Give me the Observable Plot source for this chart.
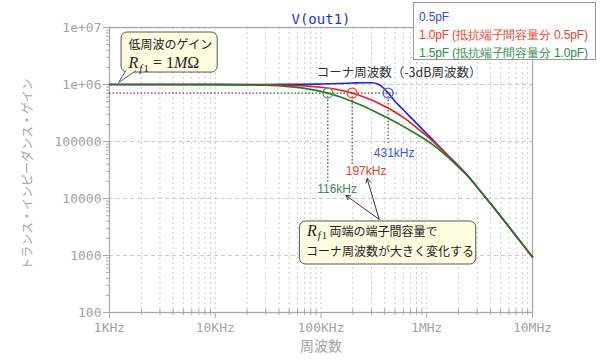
<!DOCTYPE html>
<html><head><meta charset="utf-8">
<script src="https://cdn.jsdelivr.net/npm/d3@7"></script>
<script src="https://cdn.jsdelivr.net/npm/@observablehq/plot@0.6"></script>
<style>
body{margin:0;background:#fff;}
#wrap{position:relative;width:600px;height:361px;overflow:hidden;}
#legend{position:absolute;left:413px;top:2px;width:183px;height:58px;border:1px solid #999;background:#fff;
 font-family:"Liberation Sans",Arial,sans-serif;font-size:12px;letter-spacing:-0.15px;line-height:18px;padding:5px 0 0 5px;box-sizing:border-box;white-space:nowrap;}
</style></head>
<body><div id="wrap"><div id="chart"></div><div id="legend"></div></div>
<script>
// ---- data ----
const freq   = [1e3, 1e4, 3e4, 5e4, 7e4, 1e5, 1.5e5, 2e5, 2.5e5, 3e5, 3.5e5, 4e5, 5e5, 6e5, 7e5, 8.5e5, 1e6, 1.2e6, 1.5e6, 2e6, 2.5e6, 3e6, 4e6, 5e6, 7e6, 1e7];
const gain05 = [1e6, 1.0e6, 1.002e6, 1.006e6, 1.01e6, 1.02e6, 1.04e6, 1.06e6, 1.075e6, 1.075e6, 1.01e6, 0.83e6, 0.51e6, 0.36e6, 0.268e6, 0.186e6, 0.137e6, 0.097e6, 0.0635e6, 0.0375e6, 0.024e6, 15800, 8200, 4900, 2200, 940];
const gain10 = [1e6, 0.999e6, 0.99e6, 0.97e6, 0.945e6, 0.895e6, 0.80e6, 0.70e6, 0.61e6, 0.535e6, 0.47e6, 0.415e6, 0.33e6, 0.265e6, 0.215e6, 0.16e6, 0.125e6, 0.093e6, 0.062e6, 0.0368e6, 0.0238e6, 15800, 8200, 4900, 2200, 940];
const gain15 = [1e6, 0.996e6, 0.968e6, 0.918e6, 0.856e6, 0.757e6, 0.61e6, 0.50e6, 0.42e6, 0.357e6, 0.31e6, 0.275e6, 0.222e6, 0.184e6, 0.156e6, 0.126e6, 0.104e6, 0.082e6, 0.058e6, 0.0355e6, 0.0235e6, 15800, 8200, 4900, 2200, 940];
const seriesNames = ["0.5pF", "1.0pF (抵抗端子間容量分 0.5pF)", "1.5pF (抵抗端子間容量分 1.0pF)"];
const cornerFreqs = [431e3, 197e3, 116e3];
const cornerLabels = ["431kHz", "197kHz", "116kHz"];
const cornerGain = 0.707e6;
const xTicks = [1e3, 1e4, 1e5, 1e6, 1e7];
const xTickLabels = ["1KHz", "10KHz", "100KHz", "1MHz", "10MHz"];
const yTicks = [1e2, 1e3, 1e4, 1e5, 1e6, 1e7];
const yTickLabels = ["100", "1000", "10000", "100000", "1e+06", "1e+07"];
const titleText = "V(out1)";
const xLabel = "周波数";
const yLabel = "トランス・インピーダンス・ゲイン";
const cornerTitle = "コーナ周波数（-3dB周波数）";
const note1 = ["低周波のゲイン", "Rf1 = 1MΩ"];
const note2 = ["Rf1 両端の端子間容量で", "コーナ周波数が大きく変化する"];

// ---- styles / annotation placement (data units) ----
const lineColors   = ["#1f1fe6", "#e61e1e", "#1e7d1e"];
const circleColors = ["#4a64e0", "#e8503c", "#5a9a6a"];
const labelColors  = ["#3a56d8", "#e8402a", "#3c8c5a"];
const legendColors = ["#2f4fd8", "#e8402a", "#2e8b4e"];
const boxFill = "#fffde0";
const ann = {
  cornerTitle: {f: 5.48e5, v: 1.56e6},
  hLineEnd: 5.3e5,
  dropEnd: [92000, 39400, 19100],
  labelPos: [{f: 4.92e5, v: 61500}, {f: 2.67e5, v: 29800}, {f: 1.42e5, v: 14400}],
  box1: {f1: 1300, f2: 10550, v1: 1.62e6, v2: 8.17e6},
  box1Text: [{f: 1514, v: 4.83e6}, {f: 1514, v: 2.36e6}],
  box1Pointer: [[1419, 1.73e6], [1217, 1.08e6], [1763, 1.73e6]],
  box2: {f1: 63200, f2: 2.94e6, v1: 695, v2: 3950},
  box2Text: [{f: 73600, v: 2535}, {f: 72100, v: 1130}],
  arrows: [{f1: 3.55e5, v1: 4290, f2: 1.726e5, v2: 11300}, {f1: 3.55e5, v1: 4290, f2: 2.73e5, v2: 22400}]
};

const gains = [gain05, gain10, gain15];
const rows = gains.map(g => freq.map((f, i) => ({f, v: g[i]})));
const corners = cornerFreqs.map((f, i) => ({f, label: cornerLabels[i], end: ann.dropEnd[i], lx: ann.labelPos[i].f, ly: ann.labelPos[i].v, c: circleColors[i], lc: labelColors[i]}));

const minorX = [], minorY = [];
for (let e = 3; e < 7; e++) for (let k = 2; k <= 9; k++) minorX.push(k * 10 ** e);
for (let e = 2; e < 7; e++) for (let k = 2; k <= 9; k++) minorY.push(k * 10 ** e);
const gridX = minorX.concat([1e4, 1e5, 1e6]);

const jp = "'Noto Sans CJK JP', sans-serif";
const sans = "'Liberation Sans', Arial, sans-serif";
const mono = "'DejaVu Sans Mono', monospace";
const serif = "'Liberation Serif', 'DejaVu Serif', serif";

const chart = Plot.plot({
  width: 600, height: 361,
  marginLeft: 109, marginRight: 68, marginTop: 27, marginBottom: 49,
  x: {type: "log", domain: [1e3, 1e7]},
  y: {type: "log", domain: [100, 1e7]},
  style: {fontFamily: mono, fontSize: "13px", color: "#a3a3a3", background: "white", overflow: "visible"},
  marks: [
    Plot.ruleX(gridX, {x: d => d, stroke: "#c9c9c9", strokeDasharray: "2,3"}),
    Plot.ruleY([1e3, 1e4, 1e5, 1e6], {y: d => d, stroke: "#c9c9c9", strokeDasharray: "4,3"}),
    Plot.frame({stroke: "#a8a8a8", strokeWidth: 1.3}),
    Plot.axisX(xTicks, {tickFormat: d => xTickLabels[xTicks.indexOf(d)], tickSize: 6, tickPadding: 4, label: null, stroke: "#a8a8a8"}),
    Plot.axisY(yTicks, {tickFormat: d => yTickLabels[yTicks.indexOf(d)], tickSize: 6, tickPadding: 2, label: null, stroke: "#a8a8a8"}),
    Plot.ruleX(minorX, {x: d => d, y1: 100, y2: 100, insetTop: -3, insetBottom: -3, stroke: "#a8a8a8"}),
    Plot.ruleY(minorY, {y: d => d, x1: 1e3, x2: 1e3, insetLeft: -3, stroke: "#a8a8a8"}),
    Plot.text([titleText], {frameAnchor: "top", lineAnchor: "middle", dy: -8, fill: "#2233cc", fontSize: 14, fontFamily: mono}),
    Plot.text([xLabel], {frameAnchor: "bottom", lineAnchor: "middle", dy: 34, fill: "#a3a3a3", fontSize: 14, fontFamily: jp}),
    Plot.text([yLabel], {frameAnchor: "left", textAnchor: "middle", lineAnchor: "middle", dx: -81, dy: 4, rotate: -90, fill: "#a3a3a3", fontSize: 12, fontFamily: jp}),
    // -3dB guide lines
    Plot.ruleY([cornerGain], {y: d => d, x1: 1e3, x2: ann.hLineEnd, stroke: "#222", strokeDasharray: "1.5,2"}),
    Plot.ruleX(corners, {x: "f", y1: cornerGain, y2: "end", stroke: "#222", strokeDasharray: "1.5,2"}),
    // curves
    Plot.line(rows[0], {x: "f", y: "v", stroke: lineColors[0], strokeWidth: 1.6, curve: "monotone-x"}),
    Plot.line(rows[1], {x: "f", y: "v", stroke: lineColors[1], strokeWidth: 1.6, curve: "monotone-x"}),
    Plot.line(rows[2], {x: "f", y: "v", stroke: lineColors[2], strokeWidth: 1.6, curve: "monotone-x"}),
    Plot.dot(corners, {x: "f", y: cornerGain, r: 5, stroke: "c", fill: "none", strokeWidth: 1.2}),
    Plot.text(corners, {x: "lx", y: "ly", text: "label", fill: "lc", fontSize: 12, fontFamily: sans}),
    Plot.text([cornerTitle], {x: ann.cornerTitle.f, y: ann.cornerTitle.v, fill: "#333", fontSize: 12.5, fontFamily: jp}),
    // callout 1
    Plot.rect([ann.box1], {x1: "f1", x2: "f2", y1: "v1", y2: "v2", rx: 6, fill: boxFill, stroke: "#555", strokeWidth: 1}),
    Plot.line(ann.box1Pointer, {x: d => d[0], y: d => d[1], fill: boxFill, stroke: "#555", strokeWidth: 1}),
    Plot.text([note1[0]], {x: ann.box1Text[0].f, y: ann.box1Text[0].v, textAnchor: "start", fill: "#222", fontSize: 12, fontFamily: jp}),
    Plot.text([note1[1]], {x: ann.box1Text[1].f, y: ann.box1Text[1].v, textAnchor: "start", fill: "#222", fontSize: 16, fontFamily: serif}),
    // callout 2
    Plot.arrow(ann.arrows, {x1: "f1", y1: "v1", x2: "f2", y2: "v2", stroke: "#333", strokeWidth: 1, headLength: 7}),
    Plot.rect([ann.box2], {x1: "f1", x2: "f2", y1: "v1", y2: "v2", rx: 6, fill: boxFill, stroke: "#555", strokeWidth: 1}),
    Plot.text([note2[0]], {x: ann.box2Text[0].f, y: ann.box2Text[0].v, textAnchor: "start", fill: "#222", fontSize: 12, fontFamily: jp}),
    Plot.text([note2[1]], {x: ann.box2Text[1].f, y: ann.box2Text[1].v, textAnchor: "start", fill: "#222", fontSize: 12, fontFamily: jp})
  ]
});

// math-style subscripts (R_f1)
d3.select(chart).selectAll("text").each(function () {
  const t = this.textContent;
  if (t === note1[1]) {
    const s = d3.select(this); s.text("");
    s.append("tspan").attr("font-style", "italic").text("R");
    s.append("tspan").attr("font-style", "italic").attr("font-size", 11).attr("dx", 1).attr("dy", 4).text("f");
    s.append("tspan").attr("font-size", 11).attr("dx", 1).text("1");
    s.append("tspan").attr("dy", -4).text(" = 1");
    s.append("tspan").attr("font-style", "italic").text("M");
    s.append("tspan").text("Ω");
  } else if (t === note2[0]) {
    const s = d3.select(this); s.text("");
    s.append("tspan").attr("font-family", serif).attr("font-style", "italic").attr("font-size", 16).text("R");
    s.append("tspan").attr("font-family", serif).attr("font-style", "italic").attr("font-size", 10.5).attr("dx", 1).attr("dy", 3).text("f");
    s.append("tspan").attr("font-family", serif).attr("font-size", 10.5).attr("dx", 1).text("1");
    s.append("tspan").attr("dy", -3).text(" " + t.slice(4));
  }
});
document.getElementById("chart").appendChild(chart);

const legend = d3.select("#legend");
seriesNames.forEach((n, i) => legend.append("div").style("color", legendColors[i]).text(n));
</script>
</body></html>
